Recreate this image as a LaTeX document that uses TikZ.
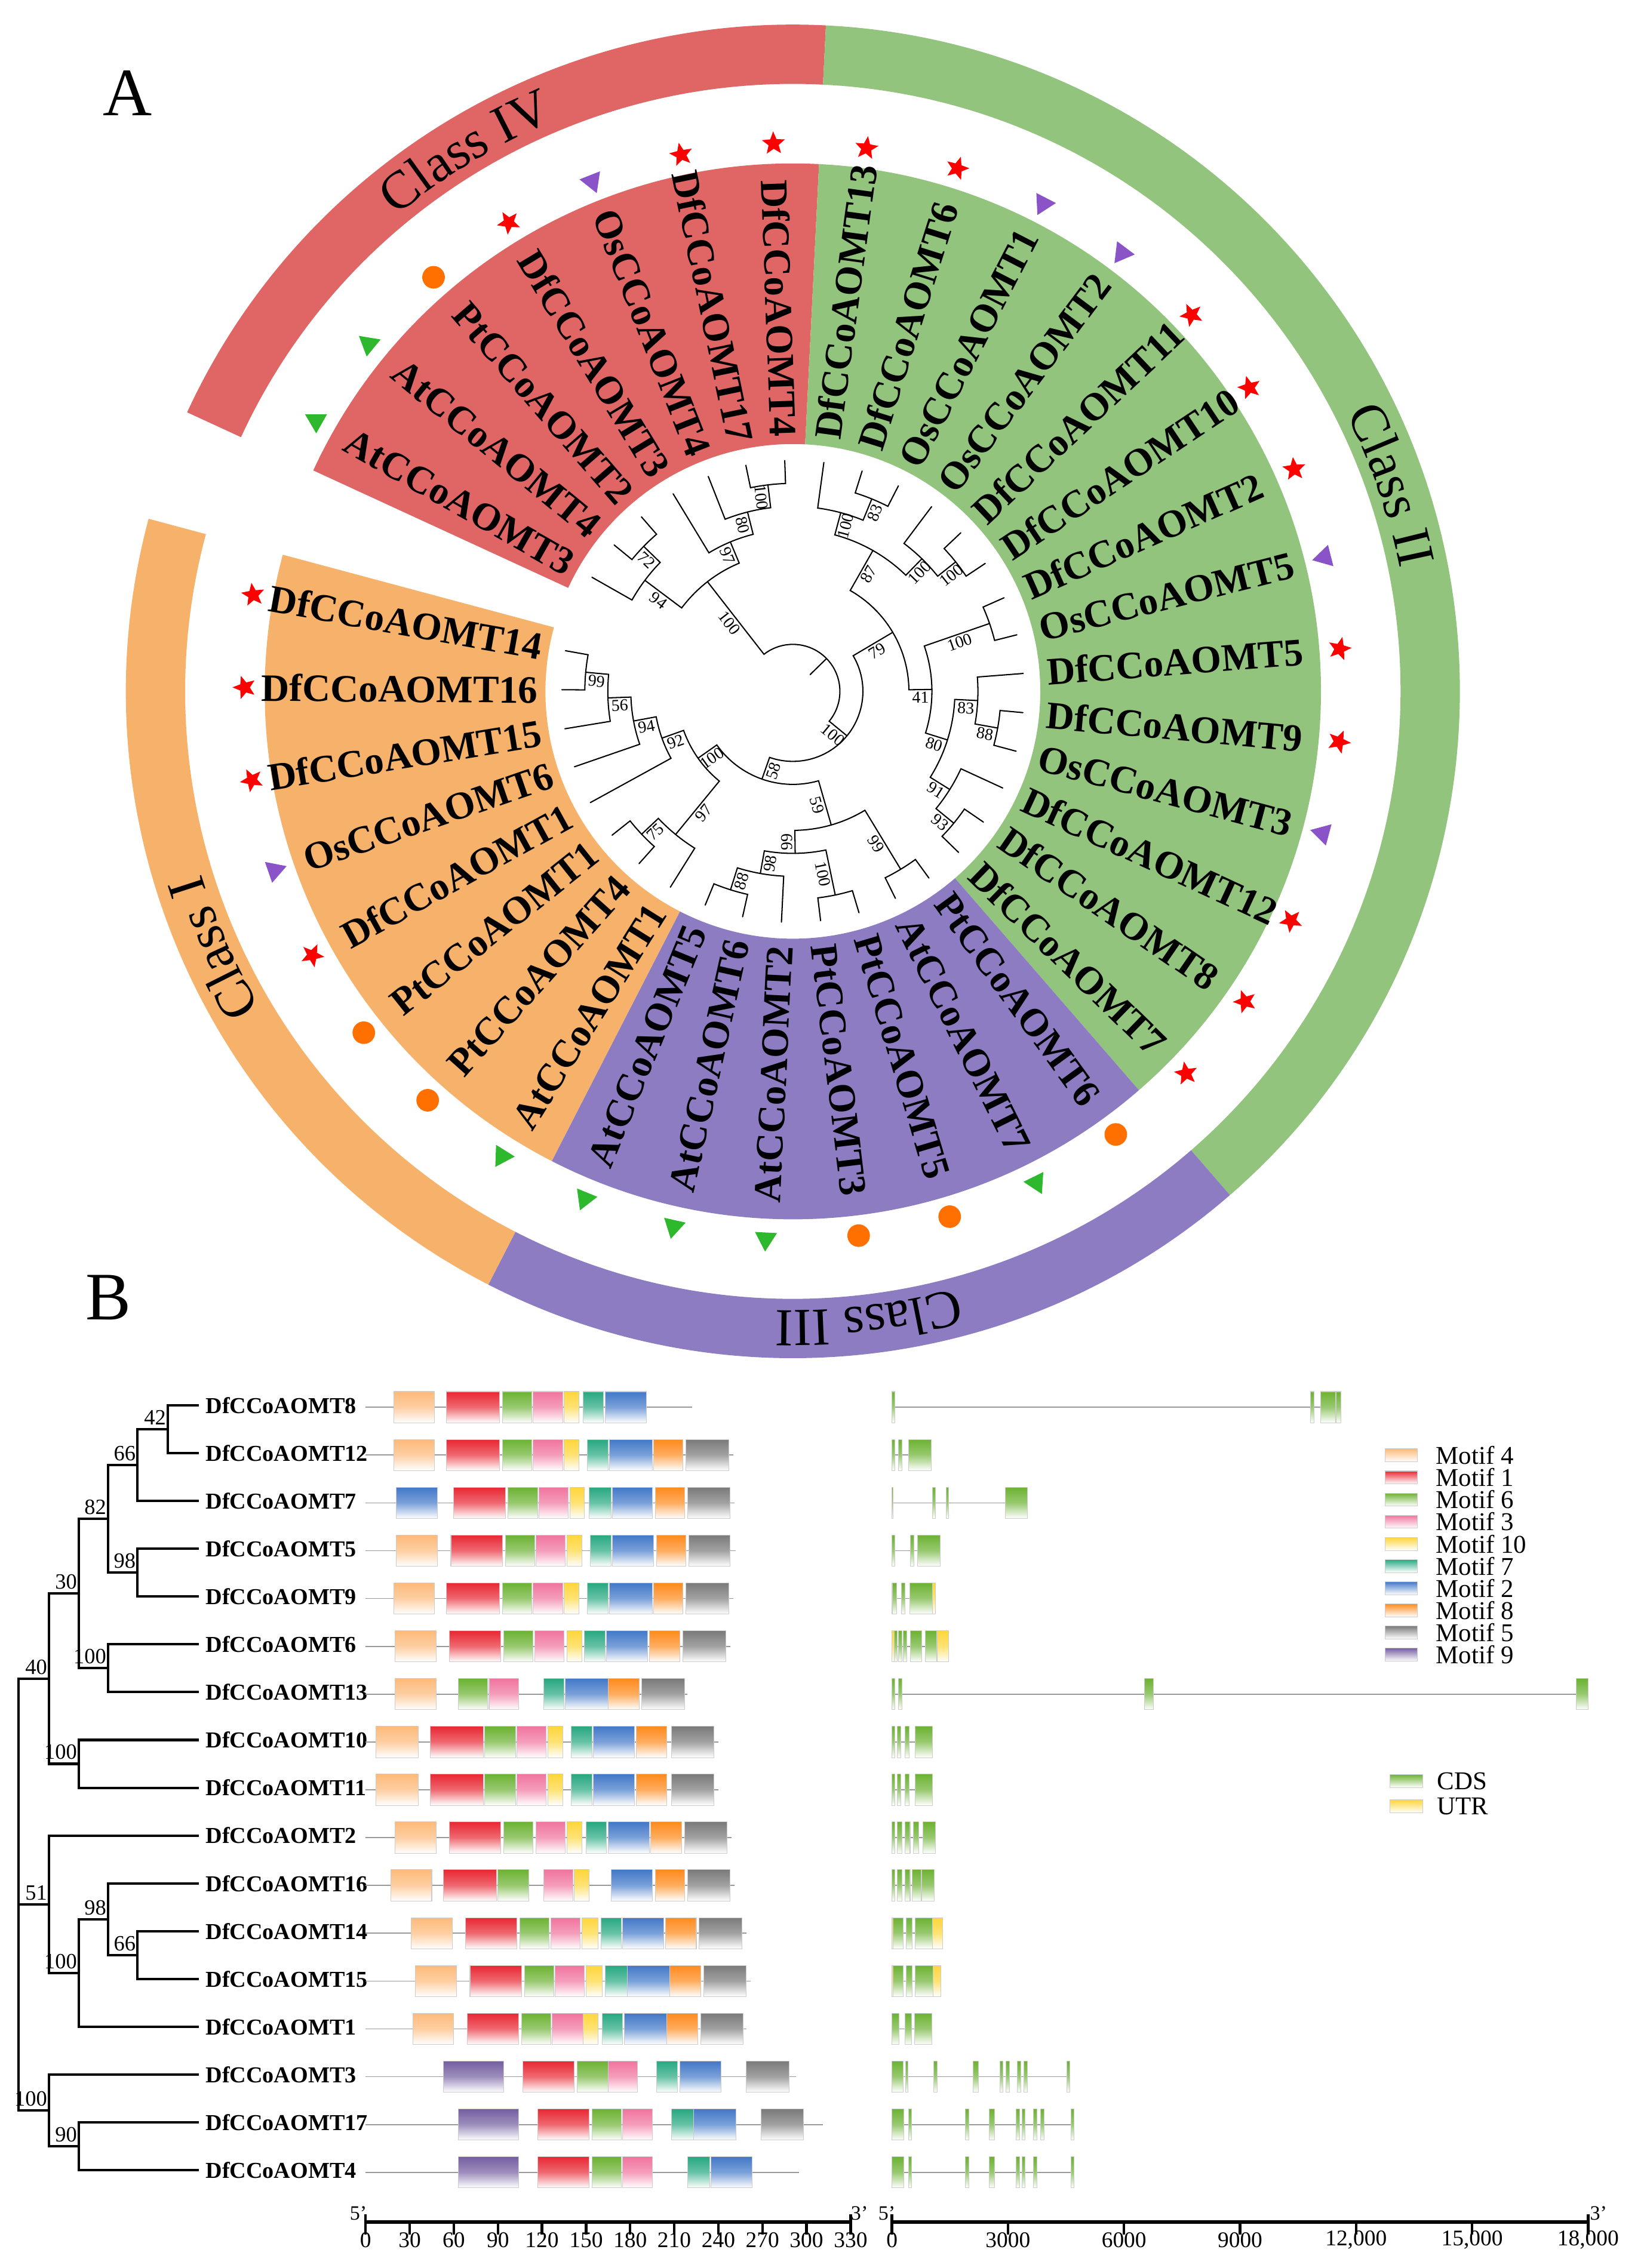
\documentclass[tikz,border=0pt]{standalone}
\usepackage{fontspec}
\setmainfont{Liberation Serif}
\usetikzlibrary{shapes.geometric,decorations.text}

\definecolor{clsI}{RGB}{246,178,107}
\definecolor{clsII}{RGB}{147,196,125}
\definecolor{clsIII}{RGB}{142,124,195}
\definecolor{clsIV}{RGB}{224,102,102}
\definecolor{symred}{RGB}{255,0,0}
\definecolor{symorange}{RGB}{255,112,0}
\definecolor{symgreen}{RGB}{46,184,46}
\definecolor{sympurple}{RGB}{138,84,200}
\definecolor{mone}{RGB}{232,40,52}
\definecolor{mtwo}{RGB}{66,120,200}
\definecolor{mthree}{RGB}{240,116,158}
\definecolor{mfour}{RGB}{253,186,122}
\definecolor{mfive}{RGB}{122,122,122}
\definecolor{msix}{RGB}{108,178,50}
\definecolor{mseven}{RGB}{38,168,128}
\definecolor{meight}{RGB}{255,138,28}
\definecolor{mnine}{RGB}{116,94,160}
\definecolor{mten}{RGB}{255,214,58}

% radii of the circular tree, one step per node height
\newcommand{\rLeaf}{159.7}
\newcommand{\rOne}{143.8}
\newcommand{\rTwo}{127.9}
\newcommand{\rThree}{112.0}
\newcommand{\rFour}{96.1}
\newcommand{\rFive}{80.2}
\newcommand{\rSix}{64.3}
\newcommand{\rSeven}{48.4}
\newcommand{\rEight}{32.5}
\newcommand{\rStub}{16.6}
\newcommand{\classfont}{\fontsize{26.3}{26.3}\selectfont}

% ring or sector: colour, from, to, inner, outer
\newcommand{\band}[5]{\fill[#1] (#2:#4) arc[start angle=#2,end angle=#3,radius=#4] -- (#3:#5) arc[start angle=#3,end angle=#2,radius=#5] -- cycle;}
% node radius, child a (angle, radius), child b (angle, radius)
\newcommand{\clade}[5]{\draw[cbranch] (#2:#3) -- (#2:#1) arc[start angle=#2,end angle=#4,radius=#1] -- (#4:#5);}
\newcommand{\cboot}[4]{%
  \pgfmathsetmacro{\bmid}{(#2+#3)/2}%
  \pgfmathsetmacro{\brot}{cos(#1)<0 ? #1+180 : #1}%
  \node[cbootlab, rotate=\brot] at (#1:\bmid) {#4};}
% rectangular tree: x parent, x child, row, value
\newcommand{\bbranch}[4]{\draw[treeB] (#1,{rowy(#3)}) -- (#2,{rowy(#3)});
  \node[bbootlab] at (#2,{rowy(#3)}) {#4};}
\newcommand{\bvert}[3]{\draw[treeB] (#1,{rowy(#2)}) -- (#1,{rowy(#3)});}

\pgfmathdeclarefunction{rowy}{1}{\pgfmathparse{596.5-33.06*#1}}
\pgfmathdeclarefunction{protx}{1}{\pgfmathparse{252.7+1.0158*#1}}
% gene positions in kb
\pgfmathdeclarefunction{genex}{1}{\pgfmathparse{616.5+26.728*#1}}

\tikzset{
  panellab/.style={font=\fontsize{33.4}{33.4}\selectfont, inner sep=0pt},
  cbranch/.style={line width=0.6pt, line cap=round},
  cbootlab/.style={font=\fontsize{8.2}{8.2}\selectfont, anchor=north, inner sep=0.35mm},
  leaflab/.style={font=\fontsize{19.1}{19.1}\selectfont\bfseries, inner sep=0pt},
  symDf/.style={star, star points=5, star point ratio=2.3, fill=symred, minimum size=4.2mm, inner sep=0pt},
  symOs/.style={regular polygon, regular polygon sides=3, shape border rotate=180, fill=sympurple, minimum size=4.4mm, inner sep=0pt},
  symAt/.style={regular polygon, regular polygon sides=3, fill=symgreen, minimum size=4.4mm, inner sep=0pt},
  symPt/.style={circle, fill=symorange, minimum size=3.9mm, inner sep=0pt},
  treeB/.style={line width=1.2pt, line cap=rect},
  bnamelab/.style={font=\fontsize{11.2}{11.2}\selectfont\bfseries, anchor=west, inner sep=0pt},
  bbootlab/.style={font=\fontsize{10.7}{10.7}\selectfont, anchor=south east, inner sep=0.8pt, yshift=0.4mm},
  protline/.style={draw=black!40, line width=0.5pt},
  motifbox/.style={draw=black!20, line width=0.3pt},
  axisline/.style={line width=1.8pt},
  ticklab/.style={font=\fontsize{11}{11}\selectfont, inner sep=0pt},
  primelab/.style={font=\fontsize{10}{10}\selectfont, inner sep=0pt},
  legendlab/.style={font=\fontsize{12.6}{12.6}\selectfont, anchor=west, inner sep=0pt}
}

\begin{document}
\begin{tikzpicture}[x=0.25mm,y=0.25mm]
\useasboundingbox (0,0) rectangle (1138,1568);

\node[panellab] (labA) at (88,1503.5) {A};
\node[panellab] (labB) at (75,671) {B};

% ---------- A: circular tree ----------
\begin{scope}[shift={(548,1090)}]
\band{clsIV}{155.26}{87.16}{420}{461}
\band{clsII}{87.16}{-49.06}{420}{461}
\band{clsIII}{-49.06}{-117.17}{420}{461}
\band{clsI}{-117.17}{-195.0}{420}{461}
\band{clsIV}{155.26}{87.16}{171}{365}
\band{clsII}{87.16}{-49.06}{171}{365}
\band{clsIII}{-49.06}{-117.17}{171}{365}
\band{clsI}{-117.17}{-195.0}{171}{365}

\path[decorate, decoration={text along path, text={|\classfont|Class IV}, text align=center}]
  (155.26:428) arc[start angle=155.26, end angle=87.16, radius=428];
\path[decorate, decoration={text along path, text={|\classfont|Class II}, text align=center}]
  (87.16:428) arc[start angle=87.16, end angle=-49.06, radius=428];
\path[decorate, decoration={text along path, text={|\classfont|Class III}, text align=center}]
  (-49.06:428) arc[start angle=-49.06, end angle=-117.17, radius=428];
\path[decorate, decoration={text along path, text={|\classfont|Class I}, text align=center}]
  (-117.17:428) arc[start angle=-117.17, end angle=-195.0, radius=428];

% tips, labels and species marks
\foreach \nm/\spc [count=\i from 0] in {AtCCoAOMT3/symAt, AtCCoAOMT4/symAt, PtCCoAOMT2/symPt,
    DfCCoAOMT3/symDf, OsCCoAOMT4/symOs, DfCCoAOMT17/symDf, DfCCoAOMT4/symDf,
    DfCCoAOMT13/symDf, DfCCoAOMT6/symDf, OsCCoAOMT1/symOs, OsCCoAOMT2/symOs,
    DfCCoAOMT11/symDf, DfCCoAOMT10/symDf, DfCCoAOMT2/symDf, OsCCoAOMT5/symOs,
    DfCCoAOMT5/symDf, DfCCoAOMT9/symDf, OsCCoAOMT3/symOs, DfCCoAOMT12/symDf,
    DfCCoAOMT8/symDf, DfCCoAOMT7/symDf, PtCCoAOMT6/symPt, AtCCoAOMT7/symAt,
    PtCCoAOMT5/symPt, PtCCoAOMT3/symPt, AtCCoAOMT2/symAt, AtCCoAOMT6/symAt,
    AtCCoAOMT5/symAt, AtCCoAOMT1/symAt, PtCCoAOMT4/symPt, PtCCoAOMT1/symPt,
    DfCCoAOMT1/symDf, OsCCoAOMT6/symOs, DfCCoAOMT15/symDf, DfCCoAOMT16/symDf,
    DfCCoAOMT14/symDf} {
  \pgfmathsetmacro{\lang}{150.4-9.7297*\i}
  \pgfmathsetmacro{\lflip}{cos(\lang)<0}
  \ifdim\lflip pt>0.5pt
    \node[leaflab, anchor=east, rotate=\lang+180] (tip\i) at (\lang:176) {\nm};
  \else
    \node[leaflab, anchor=west, rotate=\lang] (tip\i) at (\lang:176) {\nm};
  \fi
  \node[\spc, rotate=\lang-90] (mark\i) at (\lang:379) {};
}

% Class IV
\clade{\rOne}{140.67}{\rLeaf}{130.94}{\rLeaf}
\clade{\rTwo}{150.40}{\rLeaf}{135.81}{\rOne}
\clade{\rOne}{101.75}{\rLeaf}{92.02}{\rLeaf}
\clade{\rTwo}{111.48}{\rLeaf}{96.89}{\rOne}
\clade{\rThree}{121.21}{\rLeaf}{104.19}{\rTwo}
\clade{\rFour}{143.11}{\rTwo}{112.70}{\rThree}
% Class II
\clade{\rOne}{72.56}{\rLeaf}{62.83}{\rLeaf}
\clade{\rTwo}{82.29}{\rLeaf}{67.70}{\rOne}
\clade{\rOne}{43.37}{\rLeaf}{33.64}{\rLeaf}
\clade{\rTwo}{53.10}{\rLeaf}{38.51}{\rOne}
\clade{\rThree}{75.00}{\rTwo}{45.80}{\rTwo}
\clade{\rOne}{23.91}{\rLeaf}{14.18}{\rLeaf}
\clade{\rOne}{-5.28}{\rLeaf}{-15.01}{\rLeaf}
\clade{\rTwo}{4.45}{\rLeaf}{-10.15}{\rOne}
\clade{\rOne}{-34.46}{\rLeaf}{-44.19}{\rLeaf}
\clade{\rTwo}{-24.73}{\rLeaf}{-39.33}{\rOne}
\clade{\rThree}{-2.85}{\rTwo}{-32.03}{\rTwo}
\clade{\rFour}{19.05}{\rOne}{-17.44}{\rThree}
\clade{\rFive}{60.40}{\rThree}{0.80}{\rFour}
% Class III
\clade{\rOne}{-53.92}{\rLeaf}{-63.65}{\rLeaf}
\clade{\rOne}{-73.38}{\rLeaf}{-83.11}{\rLeaf}
\clade{\rOne}{-102.57}{\rLeaf}{-112.30}{\rLeaf}
\clade{\rTwo}{-92.84}{\rLeaf}{-107.44}{\rOne}
\clade{\rThree}{-78.25}{\rOne}{-100.14}{\rTwo}
\clade{\rFour}{-58.79}{\rOne}{-89.19}{\rThree}
% Class I
\clade{\rOne}{-131.76}{\rLeaf}{-141.49}{\rLeaf}
\clade{\rTwo}{-122.03}{\rLeaf}{-136.63}{\rOne}
\clade{\rOne}{-180.41}{\rLeaf}{-190.14}{\rLeaf}
\clade{\rTwo}{-170.68}{\rLeaf}{-185.28}{\rOne}
\clade{\rThree}{-160.95}{\rLeaf}{-177.98}{\rTwo}
\clade{\rFour}{-151.22}{\rLeaf}{-169.46}{\rThree}
\clade{\rFive}{-129.33}{\rTwo}{-160.34}{\rFour}
% backbone
\clade{\rSix}{-73.99}{\rFour}{-144.83}{\rFive}
\clade{\rSeven}{30.60}{\rFive}{-109.41}{\rSix}
\clade{\rEight}{127.91}{\rFour}{-39.41}{\rSeven}
\draw[cbranch] (44.25:\rStub) -- (44.25:\rEight);

\cboot{135.81}{\rTwo}{\rOne}{72}
\cboot{143.11}{\rFour}{\rTwo}{94}
\cboot{96.89}{\rTwo}{\rOne}{100}
\cboot{104.19}{\rThree}{\rTwo}{80}
\cboot{112.70}{\rFour}{\rThree}{97}
\cboot{127.91}{\rEight}{\rFour}{100}
\cboot{67.70}{\rTwo}{\rOne}{83}
\cboot{75.00}{\rThree}{\rTwo}{100}
\cboot{38.51}{\rTwo}{\rOne}{100}
\cboot{45.80}{\rThree}{\rTwo}{100}
\cboot{60.40}{\rFive}{\rThree}{87}
\cboot{19.05}{\rFour}{\rOne}{100}
\cboot{-10.15}{\rTwo}{\rOne}{88}
\cboot{-2.85}{\rThree}{\rTwo}{83}
\cboot{-39.33}{\rTwo}{\rOne}{93}
\cboot{-32.03}{\rThree}{\rTwo}{91}
\cboot{-17.44}{\rFour}{\rThree}{80}
\cboot{0.80}{\rFive}{\rFour}{41}
\cboot{30.60}{\rSeven}{\rFive}{79}
\cboot{-58.79}{\rFour}{\rOne}{99}
\cboot{-78.25}{\rThree}{\rOne}{100}
\cboot{-107.44}{\rTwo}{\rOne}{88}
\cboot{-100.14}{\rThree}{\rTwo}{98}
\cboot{-89.19}{\rFour}{\rThree}{66}
\cboot{-73.99}{\rSix}{\rFour}{59}
\cboot{-136.63}{\rTwo}{\rOne}{75}
\cboot{-129.33}{\rFive}{\rTwo}{97}
\cboot{-185.28}{\rTwo}{\rOne}{99}
\cboot{-177.98}{\rThree}{\rTwo}{56}
\cboot{-169.46}{\rFour}{\rThree}{94}
\cboot{-160.34}{\rFive}{\rFour}{92}
\cboot{-144.83}{\rSix}{\rFive}{100}
\cboot{-109.41}{\rSeven}{\rSix}{58}
\cboot{-39.41}{\rEight}{\rSeven}{100}
\end{scope}

% ---------- B: tree, motifs, gene structure ----------
\bvert{12.9}{5.72}{14.75}
\bbranch{12.9}{33.9}{5.72}{40}
\bbranch{12.9}{33.9}{10.44}{51}
\bbranch{12.9}{33.9}{14.75}{100}
\bvert{33.9}{3.94}{7.5}
\bbranch{33.9}{54.6}{3.94}{30}
\bbranch{33.9}{54.6}{7.5}{100}
\bvert{54.6}{2.375}{5.5}
\bbranch{54.6}{74.8}{2.375}{82}
\bbranch{54.6}{74.8}{5.5}{100}
\bvert{74.8}{1.25}{3.5}
\bbranch{74.8}{95.1}{1.25}{66}
\bbranch{74.8}{95.1}{3.5}{98}
\bvert{95.1}{0.5}{2}
\bbranch{95.1}{116.1}{0.5}{42}
\bvert{116.1}{0}{1}
\bvert{95.1}{3}{4}
\bvert{74.8}{5}{6}
\bvert{54.6}{7}{8}
\bvert{33.9}{9}{11.875}
\bbranch{33.9}{54.6}{11.875}{100}
\bvert{54.6}{10.75}{13}
\bbranch{54.6}{74.8}{10.75}{98}
\bvert{74.8}{10}{11.5}
\bbranch{74.8}{95.1}{11.5}{66}
\bvert{95.1}{11}{12}
\bvert{33.9}{14}{15.5}
\bbranch{33.9}{54.6}{15.5}{90}
\bvert{54.6}{15}{16}
\foreach \r/\px in {0/116.1,1/116.1,2/95.1,3/95.1,4/95.1,5/74.8,6/74.8,7/54.6,8/54.6,
    9/33.9,10/74.8,11/95.1,12/95.1,13/54.6,14/33.9,15/54.6,16/54.6}
  \draw[treeB] (\px,{rowy(\r)}) -- (136.4,{rowy(\r)});

\foreach \nm [count=\r from 0] in {DfCCoAOMT8,DfCCoAOMT12,DfCCoAOMT7,DfCCoAOMT5,DfCCoAOMT9,
    DfCCoAOMT6,DfCCoAOMT13,DfCCoAOMT10,DfCCoAOMT11,DfCCoAOMT2,DfCCoAOMT16,DfCCoAOMT14,
    DfCCoAOMT15,DfCCoAOMT1,DfCCoAOMT3,DfCCoAOMT17,DfCCoAOMT4}
  \node[bnamelab] (gene\r) at (141.9,{rowy(\r)}) {\nm};

% protein lengths and motifs
\foreach \r/\len in {0/222,1/250,2/251,3/252,4/250,5/248,6/219,7/240,8/240,9/249,
    10/251,11/259,12/262,13/259,14/293,15/311,16/295}
  \draw[protline] ({protx(0)},{rowy(\r)-1.4}) -- ({protx(\len)},{rowy(\r)-1.4});
\foreach \r/\a/\b/\mc in {
    0/19/47/mfour,0/55/91/mone,0/93/113/msix,0/114/134/mthree,0/135/145/mten,0/148/162/mseven,0/163/191/mtwo,
    1/19/47/mfour,1/55/91/mone,1/93/113/msix,1/114/134/mthree,1/135/145/mten,1/151/165/mseven,1/166/195/mtwo,1/196/216/meight,1/218/247/mfive,
    2/21/49/mtwo,2/60/95/mone,2/97/117/msix,2/118/138/mthree,2/139/149/mten,2/152/167/mseven,2/168/195/mtwo,2/197/217/meight,2/219/248/mfive,
    3/21/49/mfour,3/58/93/mone,3/95/115/msix,3/116/136/mthree,3/137/147/mten,3/153/167/mseven,3/168/196/mtwo,3/198/218/meight,3/220/248/mfive,
    4/19/47/mfour,4/55/91/mone,4/93/113/msix,4/114/134/mthree,4/135/145/mten,4/151/165/mseven,4/166/195/mtwo,4/196/216/meight,4/218/247/mfive,
    5/20/48/mfour,5/57/92/mone,5/94/114/msix,5/115/135/mthree,5/137/147/mten,5/149/163/mseven,5/164/192/mtwo,5/193/214/meight,5/216/245/mfive,
    6/20/48/mfour,6/63/83/msix,6/84/104/mthree,6/121/135/mseven,6/136/165/mtwo,6/165/186/meight,6/188/217/mfive,
    7/7/36/mfour,7/44/80/mone,7/81/102/msix,7/103/123/mthree,7/124/134/mten,7/140/154/mseven,7/155/183/mtwo,7/184/205/meight,7/208/237/mfive,
    8/7/36/mfour,8/44/80/mone,8/81/102/msix,8/103/123/mthree,8/124/134/mten,8/140/154/mseven,8/155/183/mtwo,8/184/205/meight,8/208/237/mfive,
    9/20/48/mfour,9/57/92/mone,9/94/114/msix,9/116/136/mthree,9/137/147/mten,9/150/164/mseven,9/165/193/mtwo,9/194/215/meight,9/217/246/mfive,
    10/17/45/mfour,10/53/89/mone,10/90/111/msix,10/121/141/mthree,10/142/152/mten,10/167/195/mtwo,10/197/217/meight,10/219/248/mfive,
    11/31/59/mfour,11/68/103/mone,11/105/125/msix,11/126/146/mthree,11/147/158/mten,11/160/174/mseven,11/175/203/mtwo,11/204/225/meight,11/227/256/mfive,
    12/34/62/mfour,12/71/106/mone,12/108/128/msix,12/129/149/mthree,12/150/161/mten,12/163/178/mseven,12/178/207/mtwo,12/207/228/meight,12/230/259/mfive,
    13/32/60/mfour,13/69/104/mone,13/106/126/msix,13/127/148/mthree,13/148/158/mten,13/161/175/mseven,13/176/205/mtwo,13/205/226/meight,13/228/257/mfive,
    14/53/94/mnine,14/107/142/mone,14/144/165/msix,14/165/185/mthree,14/198/212/mseven,14/214/242/mtwo,14/259/288/mfive,
    15/63/104/mnine,15/117/152/mone,15/154/174/msix,15/175/195/mthree,15/208/223/mseven,15/223/252/mtwo,15/269/298/mfive,
    16/63/104/mnine,16/117/152/mone,16/154/174/msix,16/175/195/mthree,16/219/234/mseven,16/235/263/mtwo}
  \shade[motifbox, top color=\mc, bottom color=white, middle color=\mc!70]
    ({protx(\a)},{rowy(\r)-12.2}) rectangle ({protx(\b)},{rowy(\r)+9.4});

% gene structures (kb)
\foreach \r/\len in {0/11.612,1/1.016,2/3.501,3/1.243,4/1.122,5/1.47,6/18,7/1.042,8/1.042,
    9/1.122,10/1.096,11/1.31,12/1.256,13/1.029,14/4.597,15/4.704,16/4.704}
  \draw[protline] ({genex(0)},{rowy(\r)-1.4}) -- ({genex(\len)},{rowy(\r)-1.4});
\foreach \r/\a/\b in {
    0/0/0.08,0/10.824/10.918,0/11.078/11.465,0/11.492/11.612,
    1/0/0.08,1/0.16/0.267,1/0.428/1.016,
    2/0/0.03,2/1.042/1.122,2/1.403/1.47,2/2.927/3.501,
    3/0/0.08,3/0.481/0.561,3/0.655/1.243,
    4/0.02/0.12,4/0.24/0.334,4/0.454/1.042,
    5/0.053/0.134,5/0.174/0.254,5/0.294/0.388,5/0.481/0.775,5/0.869/1.163,
    6/0/0.08,6/0.16/0.267,6/6.534/6.762,6/17.693/18,
    7/0/0.067,7/0.134/0.227,7/0.334/0.441,7/0.601/1.042,
    8/0/0.067,8/0.134/0.227,8/0.334/0.441,8/0.601/1.042,
    9/0/0.067,9/0.134/0.254,9/0.334/0.468,9/0.548/0.695,9/0.802/1.122,
    10/0/0.067,10/0.134/0.254,10/0.334/0.468,10/0.521/0.748,10/0.775/1.096,
    11/0.027/0.294,11/0.361/0.521,11/0.601/1.042,
    12/0.027/0.294,12/0.361/0.521,12/0.601/1.056,
    13/0/0.187,13/0.334/0.508,13/0.588/1.029,
    14/0/0.294,14/0.347/0.414,14/1.082/1.176,14/2.098/2.232,14/2.793/2.873,14/2.953/3.033,14/3.247/3.327,14/3.408/3.501,14/4.517/4.597,
    15/0/0.3,15/0.428/0.508,15/1.898/1.991,15/2.512/2.659,15/3.207/3.301,15/3.367/3.448,15/3.661/3.755,15/3.835/3.929,15/4.624/4.704,
    16/0/0.3,16/0.428/0.508,16/1.898/1.991,16/2.512/2.659,16/3.207/3.301,16/3.367/3.448,16/3.661/3.755,16/4.624/4.704}
  \shade[motifbox, top color=msix, bottom color=white, middle color=msix!70]
    ({genex(\a)},{rowy(\r)-12.2}) rectangle ({genex(\b)},{rowy(\r)+9.4});
\foreach \r/\a/\b in {4/0/0.02,4/1.042/1.122,5/0/0.053,5/1.163/1.47,11/0/0.027,11/1.042/1.31,12/0/0.027,12/1.056/1.256}
  \shade[motifbox, top color=mten, bottom color=white, middle color=mten!70]
    ({genex(\a)},{rowy(\r)-12.2}) rectangle ({genex(\b)},{rowy(\r)+9.4});

% legends
\foreach \mc/\mt [count=\k from 0] in {mfour/Motif 4,mone/Motif 1,msix/Motif 6,mthree/Motif 3,
    mten/Motif 10,mseven/Motif 7,mtwo/Motif 2,meight/Motif 8,mfive/Motif 5,mnine/Motif 9} {
  \shade[motifbox, top color=\mc, bottom color=white] (957.2,{561.8-15.3*\k-4.5}) rectangle (979.7,{561.8-15.3*\k+4.5});
  \node[legendlab] (motif\k) at (992.2,{561.8-15.3*\k}) {\mt};
}
\shade[motifbox, top color=msix, bottom color=white] (960.8,332.2) rectangle (983.3,341.2);
\node[legendlab] (cds) at (993,336.7) {CDS};
\shade[motifbox, top color=mten, bottom color=white] (960.8,314.7) rectangle (983.3,323.7);
\node[legendlab] (utr) at (993,319.2) {UTR};

% scale bars
\draw[axisline] ({protx(0)},31.7) -- ({protx(330)},31.7);
\draw[axisline, line width=1.3pt] ({protx(0)},37) -- ({protx(0)},23);
\draw[axisline, line width=1.3pt] ({protx(330)},37) -- ({protx(330)},23);
\foreach \v in {0,30,...,330} {
  \draw[line width=1.3pt] ({protx(\v)},31.7) -- ({protx(\v)},23);
  \node[ticklab] at ({protx(\v)},19.5) {\v};
}
\node[primelab] (p5) at (247.7,38) {5'};
\node[primelab] (p3) at (594,38) {3'};
\draw[axisline] ({genex(0)},31.7) -- ({genex(18)},31.7);
\draw[axisline, line width=1.3pt] ({genex(0)},37) -- ({genex(0)},23);
\draw[axisline, line width=1.3pt] ({genex(18)},37) -- ({genex(18)},23);
\foreach \v/\lab in {0/0,3/3000,6/6000,9/9000,12/{12,000},15/{15,000},18/{18,000}} {
  \draw[line width=1.3pt] ({genex(\v)},31.7) -- ({genex(\v)},23);
  \node[ticklab] at ({genex(\v)},19.5) {\lab};
}
\node[primelab] (g5) at (612.9,38) {5'};
\node[primelab] (g3) at (1104.8,38) {3'};
\end{tikzpicture}
\end{document}
